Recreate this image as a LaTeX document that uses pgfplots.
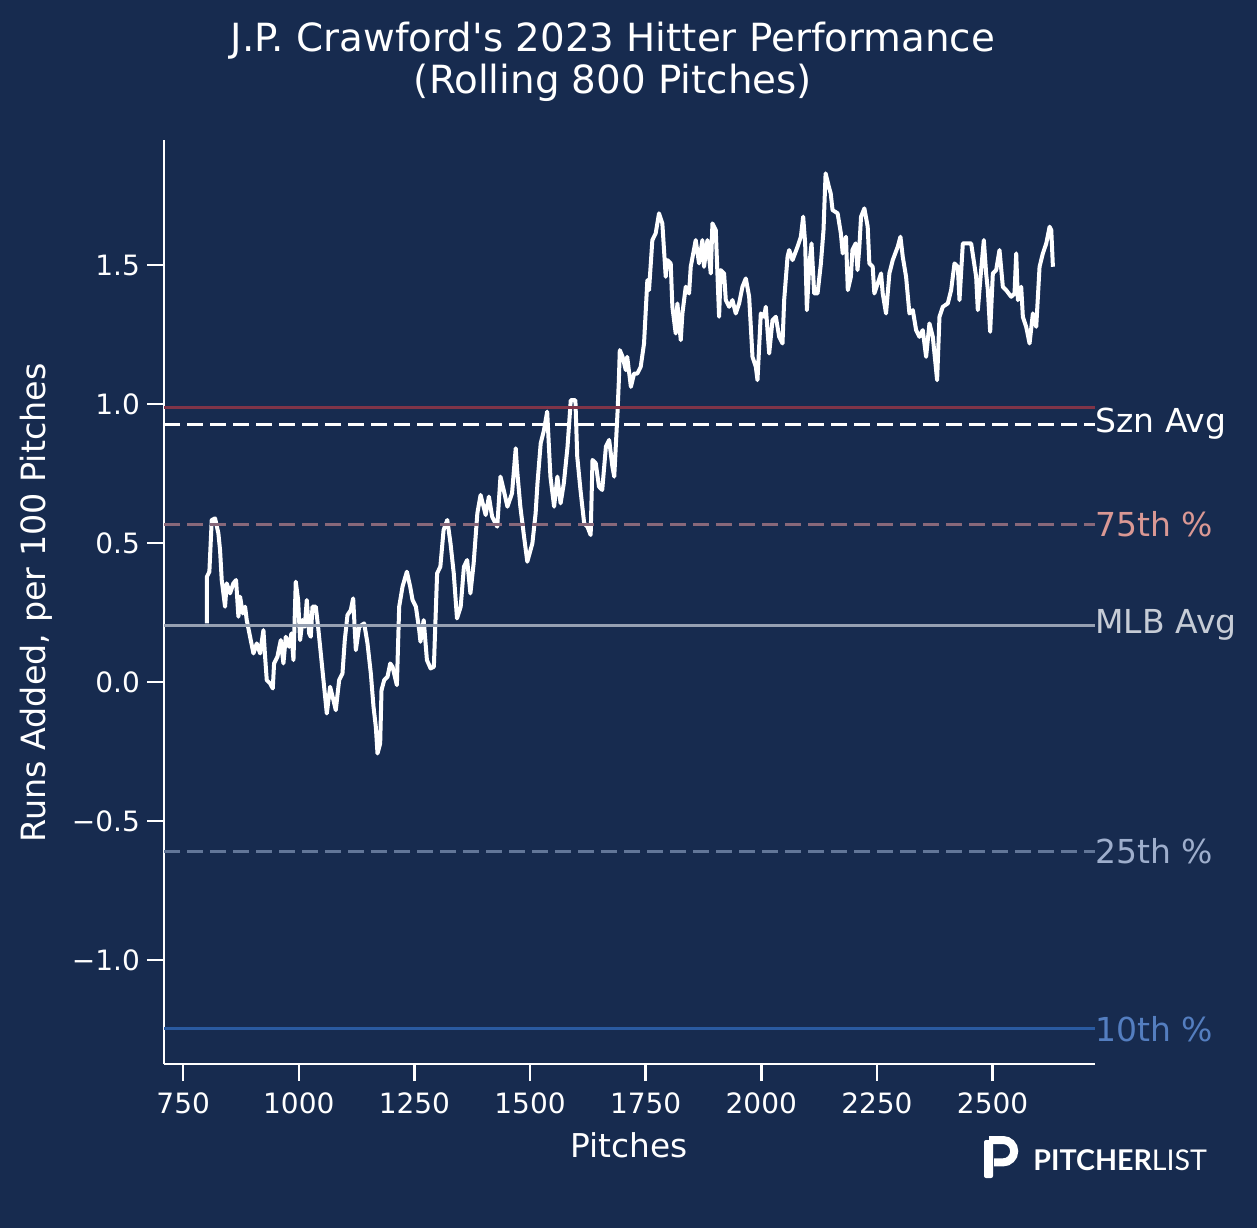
\documentclass[border=0pt]{standalone}
\usepackage{pgfplots}
\pgfplotsset{compat=1.18}
\usepackage{fontspec}
\setmainfont{DejaVu Sans}[Ligatures=TeXOff]
\newfontfamily\logofont{Lato}
\definecolor{bg}{RGB}{23,43,79}
\definecolor{redl}{RGB}{128,52,72}
\definecolor{p75l}{RGB}{136,104,122}
\definecolor{p75t}{RGB}{218,152,148}
\definecolor{mlbl}{RGB}{150,160,178}
\definecolor{mlbt}{RGB}{198,204,214}
\definecolor{p25l}{RGB}{98,118,152}
\definecolor{p25t}{RGB}{158,174,204}
\definecolor{p10l}{RGB}{42,90,160}
\definecolor{p10t}{RGB}{84,126,192}
\begin{document}
\begin{tikzpicture}
\useasboundingbox (0,0) rectangle (628.5pt,614pt);
\fill[bg] (0,0) rectangle (628.5pt,614pt);
\begin{axis}[
  at={(82pt,82pt)}, anchor=south west,
  scale only axis, width=465.5pt, height=462pt,
  xmin=708.5, xmax=2721.5, ymin=-1.374, ymax=1.95,
  axis lines=left, axis line style={-, white, line width=1.25pt},
  tick align=outside, major tick length=8.5pt,
  every tick/.style={white, line width=1.25pt},
  xtick={750,1000,1250,1500,1750,2000,2250,2500},
  xticklabels={750,1000,1250,1500,1750,2000,2250,2500},
  ytick={-1,-0.5,0,0.5,1,1.5},
  yticklabels={−1.0,−0.5,0.0,0.5,1.0,1.5},
  /pgf/number format/assume math mode=true,
  tick label style={font=\fontsize{14pt}{16pt}\selectfont, text=white},
  xticklabel style={yshift=-2.5pt},
  clip=false,
]
\addplot[white, line width=2pt, line join=round] table {
x y
801.3 0.211
801.3 0.379
806.6 0.397
811.7 0.583
818.9 0.589
826.1 0.535
829.7 0.475
833.3 0.367
840.5 0.271
844.1 0.355
851.3 0.319
858.5 0.355
864.3 0.367
869.4 0.235
873.0 0.307
878.8 0.247
883.8 0.271
887.4 0.223
894.6 0.163
901.9 0.103
909.1 0.139
916.3 0.103
923.5 0.187
927.1 0.091
930.7 0.007
937.9 -0.005
943.7 -0.023
946.5 0.067
953.7 0.091
961.0 0.151
966.7 0.067
971.8 0.163
979.0 0.127
984.0 0.175
988.4 0.079
993.4 0.361
998.5 0.295
1002.8 0.151
1007.9 0.223
1012.9 0.199
1017.2 0.295
1022.3 0.175
1025.9 0.163
1029.5 0.271
1036.7 0.271
1041.7 0.199
1047.5 0.103
1053.3 0.007
1060.5 -0.113
1067.7 -0.017
1074.9 -0.065
1079.9 -0.101
1087.2 0.007
1094.4 0.031
1099.4 0.151
1105.2 0.241
1112.4 0.259
1117.5 0.301
1123.3 0.115
1130.5 0.199
1141.3 0.211
1148.5 0.139
1155.7 0.031
1161.5 -0.089
1166.5 -0.161
1170.1 -0.257
1175.9 -0.221
1178.8 -0.029
1184.6 0.007
1191.8 0.019
1197.6 0.067
1202.6 0.055
1212.0 -0.011
1217.0 0.271
1224.2 0.343
1233.6 0.397
1240.8 0.343
1245.9 0.295
1253.1 0.271
1260.3 0.187
1263 0.145
1270 0.223
1277 0.079
1285 0.049
1292 0.055
1299 0.391
1306 0.415
1313 0.547
1321 0.583
1328 0.499
1335 0.391
1342 0.229
1350 0.271
1357 0.415
1364 0.439
1371 0.319
1378 0.427
1386 0.607
1393 0.673
1404 0.601
1411 0.667
1418 0.595
1429 0.559
1436 0.739
1443 0.691
1451 0.631
1461 0.679
1469 0.841
1472 0.763
1479 0.631
1487 0.523
1494 0.433
1505 0.499
1512 0.607
1516 0.715
1523 0.859
1530 0.906
1537 0.973
1544 0.739
1552 0.631
1559 0.739
1566 0.643
1573 0.715
1581 0.847
1588 1.014
1598 1.014
1602 0.811
1609 0.691
1617 0.571
1624 0.559
1631 0.529
1635 0.799
1642 0.787
1649 0.703
1656 0.691
1664 0.847
1671 0.871
1678 0.775
1682 0.739
1689 0.967
1692 1.086
1694 1.194
1700 1.170
1707 1.122
1710 1.170
1718 1.062
1725 1.110
1732 1.110
1739.2 1.134
1746.4 1.218
1753.6 1.446
1757.2 1.410
1764.4 1.590
1771.6 1.614
1778.8 1.686
1786.0 1.650
1793.3 1.458
1796.9 1.518
1804.1 1.506
1807.7 1.350
1814.9 1.254
1818.5 1.362
1825.8 1.230
1829.4 1.326
1836.6 1.422
1843.8 1.398
1847.4 1.494
1858.2 1.590
1865.4 1.506
1872.6 1.590
1876.2 1.494
1883.5 1.590
1890.7 1.470
1894.3 1.650
1901.5 1.626
1908.7 1.314
1912.3 1.482
1919.5 1.470
1923.2 1.374
1930.4 1.350
1937.6 1.374
1944.8 1.326
1952.0 1.362
1959.2 1.422
1966.5 1.452
1973.7 1.386
1980.9 1.170
1988.1 1.134
1991.7 1.086
1998.9 1.326
2006.1 1.314
2009.7 1.350
2017.0 1.182
2024.2 1.302
2031.4 1.314
2038.6 1.242
2045.8 1.218
2049.4 1.374
2056.7 1.530
2060.3 1.554
2067.5 1.518
2078.3 1.566
2085.5 1.602
2090.5 1.674
2094.8 1.578
2098.5 1.338
2103.5 1.494
2108.6 1.578
2114.3 1.398
2121.6 1.398
2128.8 1.506
2134.5 1.626
2136.5 1.720
2139 1.830
2146 1.782
2150 1.758
2154 1.698
2165 1.686
2172 1.614
2176 1.542
2183 1.602
2187 1.410
2193.7 1.458
2197.0 1.554
2204.0 1.578
2208.0 1.482
2212.0 1.566
2215.6 1.674
2222.8 1.704
2230.0 1.638
2233.6 1.506
2240.8 1.494
2244.4 1.398
2251.7 1.434
2258.9 1.470
2262.5 1.398
2269.7 1.326
2276.9 1.470
2284.2 1.518
2295.0 1.566
2300.8 1.602
2305.8 1.530
2313.0 1.458
2320.2 1.326
2327.5 1.338
2334.7 1.266
2341.9 1.242
2349.1 1.266
2356.3 1.170
2363.5 1.290
2370.8 1.242
2380.1 1.086
2385.2 1.314
2392.4 1.350
2403.2 1.362
2410.4 1.410
2417.7 1.506
2424.9 1.494
2428.5 1.374
2435.7 1.578
2453.7 1.578
2464.5 1.458
2468.1 1.338
2475.3 1.482
2481.1 1.590
2486.1 1.470
2489.8 1.410
2494.8 1.260
2500.6 1.470
2507.8 1.482
2515.0 1.554
2522.2 1.422
2529.4 1.410
2540.3 1.386
2547.5 1.398
2551.1 1.542
2554.7 1.374
2561.9 1.422
2565.5 1.314
2572.7 1.278
2580.0 1.218
2587.2 1.326
2594.4 1.278
2601.6 1.494
2608.8 1.542
2616.1 1.578
2623.3 1.638
2626.9 1.626
2630.5 1.494
};
\addplot[redl, line width=1.5pt] coordinates {(708.5,0.989) (2721.5,0.989)};
\addplot[white, line width=1.5pt, dash pattern=on 8pt off 3.5pt] coordinates {(708.5,0.928) (2721.5,0.928)};
\addplot[p75l, line width=1.5pt, dash pattern=on 8pt off 3.5pt] coordinates {(708.5,0.568) (2721.5,0.568)};
\addplot[mlbl, line width=1.5pt] coordinates {(708.5,0.205) (2721.5,0.205)};
\addplot[p25l, line width=1.5pt, dash pattern=on 8pt off 3.5pt] coordinates {(708.5,-0.608) (2721.5,-0.608)};
\addplot[p10l, line width=1.5pt] coordinates {(708.5,-1.248) (2721.5,-1.248)};
\begin{scope}[every node/.style={anchor=west, inner sep=0pt, font=\fontsize{16.5pt}{18pt}\selectfont}]
\node[text=white] at (axis cs:2721.5,0.928) {Szn Avg};
\node[text=p75t] at (axis cs:2721.5,0.568) {75th \%};
\node[text=mlbt] at (axis cs:2721.5,0.205) {MLB Avg};
\node[text=p25t] at (axis cs:2721.5,-0.608) {25th \%};
\node[text=p10t] at (axis cs:2721.5,-1.248) {10th \%};
\end{scope}
\end{axis}
\node[text=white, align=center, font=\fontsize{19.4pt}{21pt}\selectfont] at (306.5pt,583pt) {J.P. Crawford's 2023 Hitter Performance\\(Rolling 800 Pitches)};
\node[text=white, font=\fontsize{16.4pt}{18pt}\selectfont] at (314.5pt,41.5pt) {Pitches};
\node[text=white, rotate=90, font=\fontsize{16.7pt}{18pt}\selectfont] at (18pt,312.5pt) {Runs Added, per 100 Pitches};
% logo
\fill[white, rounded corners=1pt] (492pt,25pt) rectangle (496.5pt,44pt);
\draw[white, line width=4pt] (494.5pt,44pt) -- (501.5pt,44pt) arc (90:-90:5.6pt) -- (497pt,32.8pt);
\node[anchor=west, inner sep=0pt, text=white, font=\logofont\fontsize{14.3pt}{16pt}\selectfont] at (516.5pt,34pt) {\bfseries PITCHER\mdseries LIST};
\end{tikzpicture}
\end{document}
